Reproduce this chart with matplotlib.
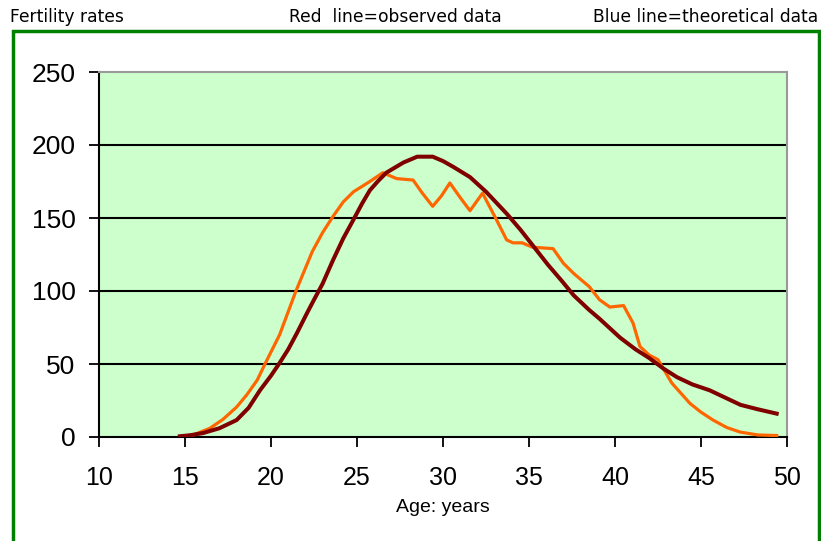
import matplotlib.pyplot as plt
from matplotlib.patches import Rectangle

# observed fertility rates (orange line)
obs_age = [14.7, 15.5, 16.45, 17.2, 18.0, 18.6, 19.2, 19.65, 20.5, 21.45, 22.4, 23.0,
           23.6, 24.2, 24.8, 25.75, 26.5, 27.3, 28.26, 28.8, 29.4,
           29.9, 30.4, 31.0, 31.57, 32.3, 33.1, 33.7, 34.07, 34.6, 35.2, 36.4, 37.0,
           37.6, 38.5, 39.1, 39.7, 40.5, 41.05, 41.45, 42.0, 42.5, 43.3, 44.36, 45.0,
           45.7, 46.5, 47.27, 48.3, 49.4]
obs_val = [0, 1.5, 6, 12, 20.5, 29, 39, 50, 70, 100, 127, 140,
           151, 161, 168, 175, 181, 177, 176, 167, 158,
           165, 174, 164, 155, 167, 149, 135, 133, 133, 130, 129, 119,
           112, 103, 94, 89, 90, 78, 62, 56, 53, 37, 23, 17,
           11.6, 6.5, 3.4, 1.4, 1]

# theoretical fertility rates (dark red line)
theo_age = [14.7, 15.3, 16.05, 17.0, 18.0, 18.7, 19.36, 20.0, 20.5, 21.0, 21.5, 22.1,
            22.5, 23.0, 23.6, 24.2, 24.8, 25.3, 25.75, 26.2, 26.7, 27.7, 28.5, 29.4,
            30.0, 30.6, 31.57, 32.5, 33.7, 34.5, 35.3, 36.1, 36.9, 37.6, 38.5, 39.1,
            40.3, 41.2, 42.0, 42.8, 43.6, 44.5, 45.5, 46.4, 47.3, 48.3, 49.4]
theo_val = [0.5, 1.2, 2.7, 6, 11.6, 20, 32, 42, 50.7, 60, 71, 85,
            94, 105, 121, 136, 149, 160, 169, 175, 181, 188, 192, 192,
            189, 185, 178, 168, 153, 142, 130, 118, 107, 97, 87, 81,
            68, 60, 54, 47, 41, 36, 32, 27, 22, 19, 16]

xticks = [10, 15, 20, 25, 30, 35, 40, 45, 50]
yticks = [0, 50, 100, 150, 200, 250]

W, H = 821, 541
fig = plt.figure(figsize=(W / 100, H / 100), dpi=100)
ax = fig.add_axes([99 / W, 1 - 437 / H, (787 - 99) / W, (437 - 72) / H])
ax.set_facecolor('#CCFFCC')

for y in yticks[1:-1]:
    ax.axhline(y, color='black', lw=1.5, zorder=1)

ax.plot(obs_age, obs_val, color='#FF6600', lw=2.3, zorder=3)
ax.plot(theo_age, theo_val, color='#800000', lw=2.9, zorder=4)

ax.set_xlim(10, 50)
ax.set_ylim(0, 250)
ax.set_xticks(xticks)
ax.set_yticks(yticks)
ax.tick_params(axis='x', direction='out', length=7, width=1.3, pad=14,
               labelsize=18)
ax.tick_params(axis='y', direction='out', length=7, width=1.3, pad=10,
               labelsize=19)
for lab in ax.get_xticklabels() + ax.get_yticklabels():
    lab.set_fontfamily('Liberation Sans')

for s in ['top', 'right']:
    ax.spines[s].set_color('#999999')
    ax.spines[s].set_linewidth(1.5)
for s in ['left', 'bottom']:
    ax.spines[s].set_color('black')
    ax.spines[s].set_linewidth(1.5)

ax.set_xlabel('Age: years', fontsize=14, family='Liberation Sans', labelpad=6)

# green frame around chart
fig.patches.append(Rectangle((13 / W, -0.05), (819 - 13) / W, 1.05 - 31 / H,
                             transform=fig.transFigure, fill=False,
                             edgecolor='#008000', lw=2.5))

fig.text(10 / W, 1 - 17 / H, 'Fertility rates', fontsize=12.3, va='center', ha='left')
fig.text(395 / W, 1 - 17 / H, 'Red  line=observed data', fontsize=12.3, va='center', ha='center')
fig.text(818 / W, 1 - 17 / H, 'Blue line=theoretical data', fontsize=12.3, va='center', ha='right')

fig.savefig('out.png', dpi=100)
